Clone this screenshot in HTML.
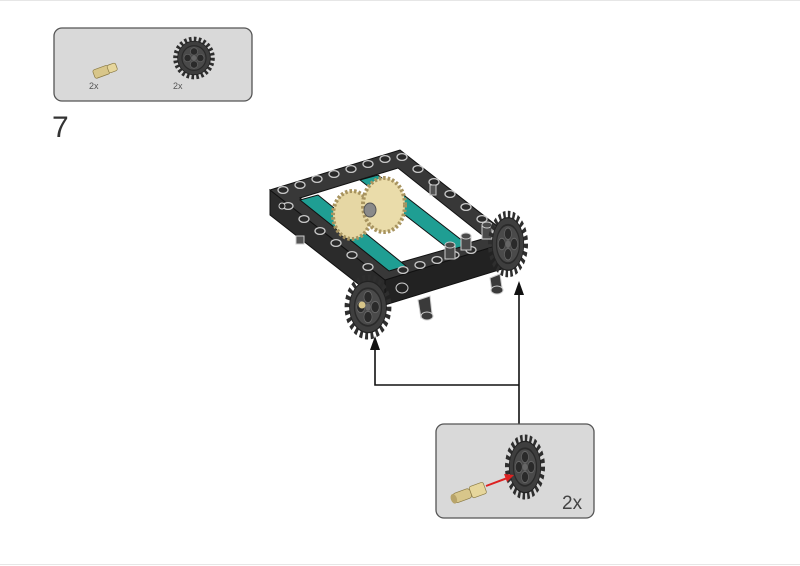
<!DOCTYPE html>
<html><head><meta charset="utf-8"><style>
html,body{margin:0;padding:0;background:#fff;width:800px;height:566px;overflow:hidden}
svg{display:block}
text{font-family:"Liberation Sans",sans-serif}
</style></head><body>
<svg width="800" height="566" viewBox="0 0 800 566" xmlns="http://www.w3.org/2000/svg">
<defs>
<g id="gear">
 <circle r="23" fill="none" stroke="#2e2e2e" stroke-width="6" stroke-dasharray="3.2 2.8"/>
 <circle r="20.5" fill="#3e3e3e" stroke="#222" stroke-width="1"/>
 <circle r="15" fill="#4a4a4a" stroke="#2a2a2a" stroke-width="1.5"/>
 <circle cx="0" cy="-8" r="4.5" fill="#2a2a2a" stroke="#666" stroke-width="0.8"/><circle cx="8" cy="0" r="4.5" fill="#2a2a2a" stroke="#666" stroke-width="0.8"/>
 <circle cx="0" cy="8" r="4.5" fill="#2a2a2a" stroke="#666" stroke-width="0.8"/><circle cx="-8" cy="0" r="4.5" fill="#2a2a2a" stroke="#666" stroke-width="0.8"/>
 <circle r="3" fill="#666"/>
</g>
</defs>
<line x1="0" y1="0.5" x2="800" y2="0.5" stroke="#e6e6e6"/>
<line x1="0" y1="564.5" x2="800" y2="564.5" stroke="#e6e6e6"/>

<!-- top panel -->
<rect x="54" y="28" width="198" height="73" rx="8" fill="#d9d9d9" stroke="#555" stroke-width="1.3"/>
<g transform="translate(105,70) rotate(-20)">
 <rect x="-12" y="-4" width="16" height="9" rx="2" fill="#d8c68a" stroke="#8a7a45" stroke-width="0.7"/>
 <rect x="3" y="-3.5" width="9" height="8" rx="2" fill="#e6d69c" stroke="#8a7a45" stroke-width="0.7"/>
</g>
<text x="89" y="89" font-size="9" fill="#555">2x</text>
<g transform="translate(194,58) scale(0.8,0.82)"><use href="#gear"/></g>
<text x="173" y="89" font-size="9" fill="#555">2x</text>
<text x="52" y="137" font-size="30" fill="#333">7</text>

<!-- frame -->
<g stroke="#111" stroke-width="1">
 <polygon points="270,190 385,280 385,305 270,215" fill="#2b2b2b"/>
 <polygon points="385,280 515,240 515,265 385,305" fill="#222"/>
 <polygon points="270,190 400,150 515,240 385,280" fill="#383838"/>
 <polygon points="300,198 398,168 486,238 388,266" fill="#fff"/>
 <polygon points="300,200 318,195 406,266 389,271" fill="#1f9e93"/>
 <polygon points="360,180 378,175 468,245 450,250" fill="#1f9e93"/>
</g>
<g fill="#2a2a2a" stroke="#c8c8c8" stroke-width="1.3">
 <ellipse cx="283" cy="190" rx="5" ry="3.4"/><ellipse cx="300" cy="185" rx="5" ry="3.4"/>
 <ellipse cx="317" cy="179" rx="5" ry="3.4"/><ellipse cx="334" cy="174" rx="5" ry="3.4"/>
 <ellipse cx="351" cy="169" rx="5" ry="3.4"/><ellipse cx="368" cy="164" rx="5" ry="3.4"/>
 <ellipse cx="385" cy="159" rx="5" ry="3.4"/><ellipse cx="402" cy="157" rx="5" ry="3.4"/>
 <ellipse cx="418" cy="169" rx="5" ry="3.4"/><ellipse cx="434" cy="182" rx="5" ry="3.4"/>
 <ellipse cx="450" cy="194" rx="5" ry="3.4"/><ellipse cx="466" cy="207" rx="5" ry="3.4"/>
 <ellipse cx="482" cy="219" rx="5" ry="3.4"/><ellipse cx="498" cy="232" rx="5" ry="3.4"/>
 <ellipse cx="288" cy="206" rx="5" ry="3.4"/><ellipse cx="304" cy="219" rx="5" ry="3.4"/>
 <ellipse cx="320" cy="231" rx="5" ry="3.4"/><ellipse cx="336" cy="243" rx="5" ry="3.4"/>
 <ellipse cx="352" cy="255" rx="5" ry="3.4"/><ellipse cx="368" cy="267" rx="5" ry="3.4"/>
 <ellipse cx="403" cy="270" rx="5" ry="3.4"/><ellipse cx="420" cy="265" rx="5" ry="3.4"/>
 <ellipse cx="437" cy="260" rx="5" ry="3.4"/><ellipse cx="454" cy="255" rx="5" ry="3.4"/>
 <ellipse cx="471" cy="250" rx="5" ry="3.4"/>
</g>
<g fill="#4a4a4a" stroke="#ccc" stroke-width="1">
 <rect x="445" y="245" width="10" height="14"/><ellipse cx="450" cy="245" rx="5" ry="3"/>
 <rect x="461" y="236" width="10" height="14"/><ellipse cx="466" cy="236" rx="5" ry="3"/>
 <rect x="482" y="225" width="10" height="14"/><ellipse cx="487" cy="225" rx="5" ry="3"/>
</g>
<g fill="#3a3a3a" stroke="#ccc" stroke-width="1">
 <polygon points="418,300 430,296 432,314 421,318"/><ellipse cx="427" cy="316" rx="6" ry="4"/>
 <polygon points="490,278 500,274 502,288 492,292"/><ellipse cx="497" cy="290" rx="6" ry="4"/>
 <ellipse cx="402" cy="288" rx="6" ry="5" fill="#222"/>
 <ellipse cx="282" cy="206" rx="3" ry="3" fill="#222"/>
 <rect x="296" y="236" width="8" height="8" fill="#555"/>
 <rect x="430" y="185" width="6" height="10" fill="#555"/>
</g>
<!-- tan gears -->
<g stroke="#a89460" stroke-width="4" stroke-dasharray="2.5 2">
 <ellipse cx="352" cy="215" rx="19" ry="24" fill="#e6d7a4"/>
 <ellipse cx="384" cy="205" rx="21" ry="27" fill="#eadcaa"/>
</g>
<ellipse cx="370" cy="210" rx="6" ry="7" fill="#8a8a8a" stroke="#555"/>
<!-- wheels -->
<g transform="translate(368,307) scale(0.9,1.25)"><use href="#gear"/></g>
<circle cx="362" cy="305" r="3.5" fill="#d8c68a"/>
<g transform="translate(508,244) scale(0.77,1.28)"><use href="#gear"/></g>

<!-- arrows -->
<g stroke="#111" stroke-width="1.6" fill="none">
 <polyline points="519,424 519,294"/>
 <polyline points="375,348 375,385 519,385"/>
</g>
<polygon points="519,281 514,295 524,295" fill="#111"/>
<polygon points="375,336 370,350 380,350" fill="#111"/>

<!-- bottom panel -->
<rect x="436" y="424" width="158" height="94" rx="8" fill="#d9d9d9" stroke="#555" stroke-width="1.3"/>
<g transform="translate(525,467) scale(0.77,1.25)"><use href="#gear"/></g>
<line x1="486" y1="486" x2="510" y2="477" stroke="#d22" stroke-width="2"/>
<polygon points="514,475 504,474 507,482" fill="#d22"/>
<g transform="translate(467,494) rotate(-20)">
 <rect x="-14" y="-5" width="18" height="10" rx="3" fill="#d8c68a" stroke="#8a7a45" stroke-width="0.7"/>
 <rect x="4" y="-6" width="15" height="12" rx="2" fill="#e6d69c" stroke="#8a7a45" stroke-width="0.7"/>
 <ellipse cx="-14" cy="0" rx="3" ry="5" fill="#b8a46a"/>
</g>
<text x="562" y="509" font-size="19" fill="#444">2x</text>
</svg>
</body></html>
